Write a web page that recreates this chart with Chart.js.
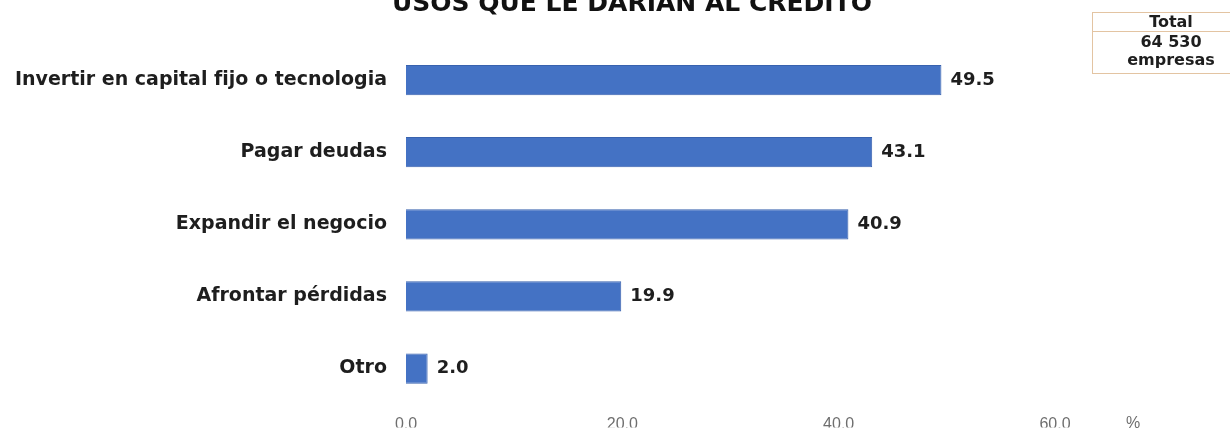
<!DOCTYPE html>
<html lang="es">
<head>
    <meta charset="UTF-8">
    <title>Usos que le darían al crédito</title>
    <style>
        html, body {
            margin: 0;
            padding: 0;
            background: #ffffff;
            overflow: hidden;
        }
        .contenedor {
            position: relative;
            width: 1230px;
            height: 435px;
            overflow: hidden;
        }
        .titulo {
            position: absolute;
            left: 632px;
            top: -12px;
            transform: translateX(-50%);
            white-space: nowrap;
            font-family: "DejaVu Sans", sans-serif;
            font-weight: bold;
            font-size: 25px;
            line-height: 30px;
            color: #111;
        }
        .total {
            position: absolute;
            left: 1092px;
            top: 12px;
            width: 156px;
            border: 1px solid #e3c4a2;
            font-family: "DejaVu Sans", sans-serif;
            font-weight: bold;
            font-size: 16px;
            color: #1e1e1e;
            text-align: center;
        }
        .total .cab {
            line-height: 18px;
            border-bottom: 1px solid #e3c4a2;
        }
        .total .cuerpo {
            line-height: 18px;
            padding: 1px 0 4px 0;
        }
        canvas {
            position: absolute;
            left: 0;
            top: 0;
        }
    </style>
    <script src="https://cdn.jsdelivr.net/npm/chart.js"></script>
</head>
<body>
<div class="contenedor">
    <canvas id="grafico" width="1230" height="435"></canvas>
    <div class="titulo">USOS QUE LE DARÍAN AL CRÉDITO</div>
    <div class="total">
        <div class="cab">Total</div>
        <div class="cuerpo">64 530<br>empresas</div>
    </div>
</div>

<script>
    // datos
    const categorias = [
        'Invertir en capital fijo o tecnologia',
        'Pagar deudas',
        'Expandir el negocio',
        'Afrontar pérdidas',
        'Otro'
    ];
    const porcentajes = [49.5, 43.1, 40.9, 19.9, 2.0];
    const ticksEje = [0, 20, 40, 60];
    const unidad = '%';

    const azul = '#4472C4';

    // etiquetas de valor al final de cada barra
    const etiquetasValor = {
        id: 'etiquetasValor',
        afterDatasetsDraw(chart) {
            const ctx = chart.ctx;
            const meta = chart.getDatasetMeta(0);
            ctx.save();
            ctx.font = 'bold 18px "DejaVu Sans"';
            ctx.fillStyle = '#1e1e1e';
            ctx.textAlign = 'left';
            ctx.textBaseline = 'middle';
            meta.data.forEach((barra, i) => {
                ctx.fillText(porcentajes[i].toFixed(1), barra.x + 9, barra.y);
            });
            ctx.restore();
        }
    };

    // signo de porcentaje a la derecha del eje
    const signoEje = {
        id: 'signoEje',
        afterDraw(chart) {
            const ctx = chart.ctx;
            const ejeX = chart.scales.x;
            ctx.save();
            ctx.font = '16px "Liberation Sans"';
            ctx.fillStyle = '#6e6e6e';
            ctx.textAlign = 'center';
            ctx.textBaseline = 'middle';
            ctx.fillText(unidad, chart.chartArea.right + 78, ejeX.top + 19);
            ctx.restore();
        }
    };

    new Chart(document.getElementById('grafico'), {
        type: 'bar',
        data: {
            labels: categorias,
            datasets: [{
                data: porcentajes,
                backgroundColor: azul,
                borderColor: '#3862ae',
                borderWidth: 1,
                categoryPercentage: 1,
                barPercentage: 0.42
            }]
        },
        options: {
            indexAxis: 'y',
            responsive: false,
            animation: false,
            layout: {
                padding: { top: 44, right: 175, bottom: 0, left: 0 }
            },
            plugins: {
                legend: { display: false },
                tooltip: { enabled: false }
            },
            scales: {
                x: {
                    min: 0,
                    max: 60,
                    afterBuildTicks(scale) {
                        scale.ticks = ticksEje.map(v => ({ value: v }));
                    },
                    afterFit(scale) {
                        scale.height = 23;
                    },
                    grid: { display: false, drawTicks: false },
                    border: { display: false },
                    ticks: {
                        padding: 10,
                        color: '#6e6e6e',
                        font: { family: 'Liberation Sans', size: 16 },
                        callback: v => v.toFixed(1)
                    }
                },
                y: {
                    afterFit(scale) {
                        scale.width = 406;
                    },
                    grid: { display: false, drawTicks: false },
                    border: { display: false },
                    ticks: {
                        padding: 19,
                        color: '#1e1e1e',
                        font: { family: 'DejaVu Sans', size: 19, weight: 'bold' }
                    }
                }
            }
        },
        plugins: [etiquetasValor, signoEje]
    });
</script>
</body>
</html>
